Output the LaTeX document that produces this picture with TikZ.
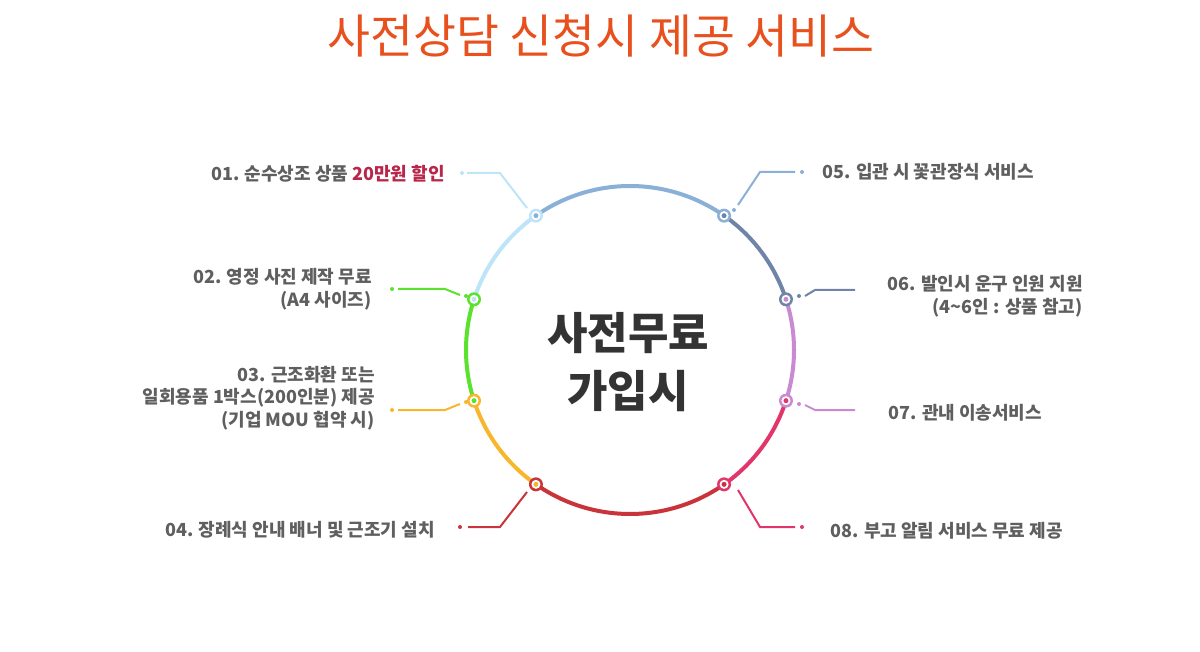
\documentclass[tikz,border=0pt]{standalone}
\usepackage{fontspec}
\setmainfont{Noto Sans CJK KR}
\usetikzlibrary{calc}
\definecolor{ttl}{HTML}{E8501E}
\definecolor{txt}{HTML}{5F5F5F}
\definecolor{hl}{HTML}{B8264A}
\definecolor{cA}{HTML}{BDE5F7}
\definecolor{cB}{HTML}{8AB0D8}
\definecolor{cC}{HTML}{6F84A6}
\definecolor{cD}{HTML}{C98AD2}
\definecolor{cE}{HTML}{E0366A}
\definecolor{cF}{HTML}{C8343A}
\definecolor{cG}{HTML}{F7B62C}
\definecolor{cH}{HTML}{5BE22E}
\tikzset{
  item/.style={font=\fontsize{13.5}{17}\selectfont\bfseries, text=txt, inner sep=0pt},
  lead/.style={line width=1.5pt},
}
\begin{document}
\begin{tikzpicture}[x=0.75pt,y=-0.75pt]
	\useasboundingbox (0,0) rectangle (1200,652);
	\coordinate (C) at (630,350);
	% title
	\node[font=\fontsize{35}{38}\selectfont, text=ttl] (title) at (601,36) {사전상담 신청시 제공 서비스};
	% arcs
	\foreach \a/\b/\c in {125/55/cB,55/18/cC,18/-18/cD,-18/-55/cE,-55/-125/cF,-125/-162/cG,-162/-198/cH,162/125/cA}
		\draw[line width=3pt,\c] ($(C)+(\a:164 and -164)$) arc[start angle=\a,end angle=\b,x radius=164,y radius=-164];
	% dots
	\foreach \n/\a/\c/\d in {d1/125/cA/cB,d2/162/cH/cA,d3/198/cG/cH,d4/235/cF/cG,d5/55/cB/cC,d6/18/cC/cD,d7/-18/cD/cE,d8/-55/cE/cF}{
		\coordinate (\n) at ($(C)+(\a:164 and -164)$);
		\fill[\c] (\n) circle (7);
		\fill[white] (\n) circle (4.5);
		\fill[\d] (\n) circle (2.5);
	}
	% centre
	\node[font=\fontsize{33}{44}\selectfont\bfseries, text=black!80, align=center] (mid) at (628,362) {사전무료\\가입시};
	% leaders
	\draw[lead,cA] (467,173) -- (500,173) -- (527,208); \fill[cA] (462,173) circle (2);
	\draw[lead,cH] (398,289) -- (445,289) -- (460,295); \fill[cH] (392,289) circle (2); \fill[cH] (466,296) circle (2);
	\draw[lead,cG] (398,410) -- (445,410) -- (460,404); \fill[cG] (392,410) circle (2); \fill[cG] (466,402) circle (2);
	\draw[lead,cF] (468,527) -- (500,527) -- (527,492); \fill[cF] (460,527) circle (2);
	\draw[lead,cB] (738,205) -- (760,172) -- (795,172); \fill[cB] (802,172) circle (2); \fill[cB] (734,210) circle (2);
	\draw[lead,cC] (805,296) -- (815,290) -- (855,290); \fill[cC] (799,296) circle (2);
	\draw[lead,cD] (805,405) -- (815,410) -- (855,410); \fill[cD] (799,404) circle (2);
	\draw[lead,cE] (738,490) -- (760,527) -- (795,527); \fill[cE] (802,527) circle (2);
	% labels
	\node[item, anchor=east] (t1) at (445,174) {01. 순수상조 상품 \textcolor{hl}{20만원 할인}};
	\node[item, anchor=east, align=right] (t2) at (372,289) {02. 영정 사진 제작 무료\\(A4 사이즈)};
	\node[item, anchor=east, align=right] (t3) at (375,398) {03. 근조화환 또는\\일회용품 1박스(200인분) 제공\\(기업 MOU 협약 시)};
	\node[item, anchor=east] (t4) at (435,530) {04. 장례식 안내 배너 및 근조기 설치};
	\node[item, anchor=west] (t5) at (822,172) {05. 입관 시 꽃관장식 서비스};
	\node[item, anchor=east, align=right] (t6) at (1083,296) {06. 발인시 운구 인원 지원\\(4\textasciitilde 6인 : 상품 참고)};
	\node[item, anchor=west] (t7) at (888,413) {07. 관내 이송서비스};
	\node[item, anchor=west] (t8) at (830,531) {08. 부고 알림 서비스 무료 제공};
\end{tikzpicture}
\end{document}
